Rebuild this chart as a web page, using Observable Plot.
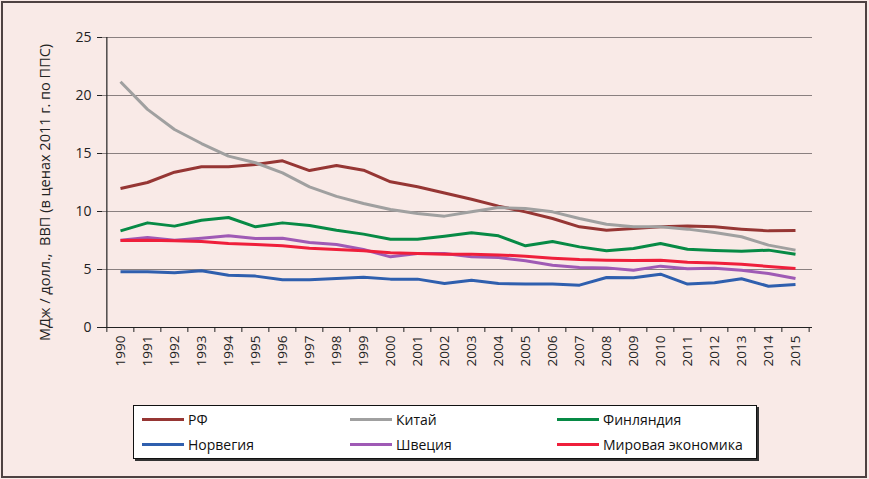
<!DOCTYPE html>
<html>
<head>
<meta charset="utf-8">
<script src="https://cdn.jsdelivr.net/npm/d3@7"></script>
<script src="https://cdn.jsdelivr.net/npm/@observablehq/plot@0.6"></script>
<style>
  html, body { margin: 0; padding: 0; background: #ffffff; }
  #wrap { position: relative; width: 869px; height: 479px; background: #F9EAE7; font-family: "Open Sans", sans-serif; overflow: hidden; }
  #wrap svg { position: absolute; left: 0; top: 0; }
  #border { position: absolute; left: 1px; top: 1px; width: 862px; height: 473px; border: 2px solid #4e4242; pointer-events: none; }
  #legend { position: absolute; left: 133px; top: 405px; width: 622px; height: 52px; background: #ffffff; border: 1px solid #111; box-shadow: 2px 2px 0 #333; }
  .item { position: absolute; display: flex; align-items: center; font-size: 14px; color: #111; white-space: nowrap; }
  .sw { width: 42px; height: 3px; margin-right: 4px; }
</style>
</head>
<body>
<div id="wrap">
  <div id="legend"></div>
  <div id="border"></div>
</div>
<script>
const years = ["1990","1991","1992","1993","1994","1995","1996","1997","1998","1999","2000","2001","2002","2003","2004","2005","2006","2007","2008","2009","2010","2011","2012","2013","2014","2015"];
const yTicks = [0, 5, 10, 15, 20, 25];
const seriesNames = ["РФ", "Китай", "Финляндия", "Норвегия", "Швеция", "Мировая экономика"];
const seriesColors = ["#963634", "#a0a0a0", "#078a45", "#2f5fae", "#9f5ab5", "#ef1f3b"];
const yLabel = "МДж / долл.,  ВВП (в ценах 2011 г. по ППС)";

const rf      = [11.98,12.5,13.39,13.85,13.85,14.05,14.37,13.53,13.97,13.56,12.56,12.13,11.6,11.06,10.46,9.97,9.4,8.68,8.39,8.53,8.68,8.76,8.68,8.48,8.33,8.36];
const china   = [21.18,18.8,17.07,15.86,14.77,14.2,13.33,12.13,11.3,10.69,10.17,9.83,9.6,9.97,10.34,10.26,9.97,9.4,8.9,8.68,8.68,8.48,8.19,7.82,7.1,6.67];
const finland = [8.33,9.02,8.74,9.25,9.48,8.68,9.02,8.79,8.39,8.05,7.61,7.61,7.87,8.16,7.9,7.04,7.41,6.95,6.61,6.81,7.24,6.75,6.64,6.58,6.67,6.32];
const norway  = [4.8,4.8,4.71,4.89,4.51,4.43,4.11,4.11,4.22,4.34,4.17,4.17,3.79,4.08,3.79,3.74,3.74,3.65,4.31,4.28,4.6,3.74,3.85,4.2,3.56,3.71];
const sweden  = [7.53,7.76,7.53,7.7,7.9,7.67,7.7,7.33,7.16,6.72,6.09,6.38,6.38,6.09,6.03,5.75,5.37,5.17,5.14,4.94,5.29,5.06,5.11,4.94,4.66,4.22];
const world   = [7.5,7.53,7.47,7.41,7.24,7.16,7.04,6.84,6.72,6.61,6.44,6.38,6.32,6.32,6.26,6.15,5.98,5.86,5.8,5.78,5.8,5.63,5.55,5.46,5.26,5.09];

const allSeries = [rf, china, finland, norway, sweden, world];
const rows = [];
allSeries.forEach((vals, i) => vals.forEach((v, j) => rows.push({year: years[j], value: v, series: seriesNames[i]})));

const W = 869, H = 479, ML = 102, MR = 57, MT = 37, MB = 152;
const step = (W - ML - MR) / years.length;

const chart = Plot.plot({
  width: W, height: H,
  marginLeft: ML, marginRight: MR, marginTop: MT, marginBottom: MB,
  style: {background: "transparent", fontFamily: "Open Sans, sans-serif"},
  x: {type: "point", domain: years, padding: 0.5},
  y: {domain: [0, 25]},
  color: {domain: seriesNames, range: seriesColors},
  marks: [
    Plot.ruleY(yTicks.filter(d => d > 0), {stroke: "#8a8080", strokeWidth: 1}),
    Plot.ruleY([0], {stroke: "#222", strokeWidth: 1.2}),
    Plot.ruleX([years[0]], {y1: 0, y2: 25, dx: -step / 2, stroke: "#222", strokeWidth: 1.2}),
    Plot.ruleX(years, {y1: 0, y2: -0.43, dx: -step / 2, stroke: "#222", strokeWidth: 1}),
    Plot.ruleX([years[years.length - 1]], {y1: 0, y2: -0.43, dx: step / 2, stroke: "#222", strokeWidth: 1}),
    Plot.axisY({ticks: yTicks, tickSize: 5, tickPadding: 6, fontSize: 14, label: null, stroke: "#222", color: "#222"}),
    Plot.axisX({tickSize: 0, tickPadding: 8, tickRotate: -90, fontSize: 13.5, label: null, color: "#222"}),
    Plot.text([yLabel], {frameAnchor: "left", dx: -57, dy: 10, rotate: -90, textAnchor: "middle", fontSize: 14.5, fill: "#222"}),
    Plot.line(rows, {x: "year", y: "value", z: "series", stroke: "series", strokeWidth: 3, strokeLinejoin: "round", strokeLinecap: "butt"})
  ]
});
document.getElementById("wrap").insertBefore(chart, document.getElementById("legend"));

const legend = document.getElementById("legend");
const colX = [8, 216, 423];
const rowY = [13, 38];
seriesNames.forEach((name, i) => {
  const it = document.createElement("div");
  it.className = "item";
  it.style.left = colX[i % 3] + "px";
  it.style.top = (rowY[Math.floor(i / 3)] - 10) + "px";
  it.style.height = "20px";
  const sw = document.createElement("span");
  sw.className = "sw";
  sw.style.background = seriesColors[i];
  const tx = document.createElement("span");
  tx.textContent = name;
  it.appendChild(sw); it.appendChild(tx);
  legend.appendChild(it);
});
</script>
</body>
</html>
